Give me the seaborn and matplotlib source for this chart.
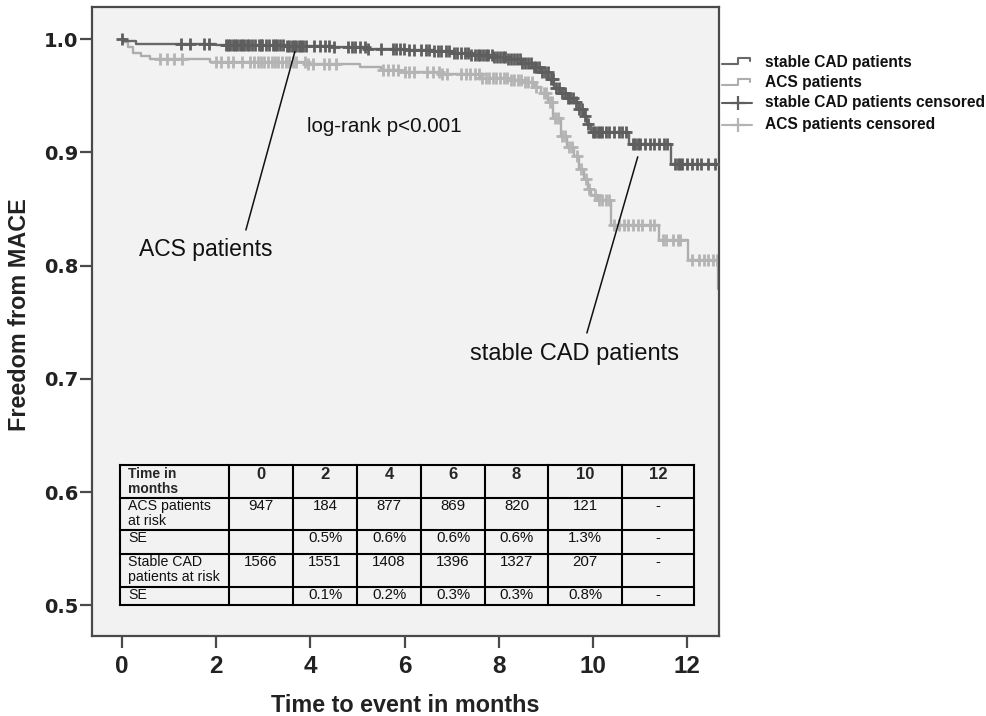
import numpy as np
import matplotlib
matplotlib.use("Agg")
import matplotlib.pyplot as plt
import seaborn as sns
from matplotlib.lines import Line2D

# ---------------- data ----------------
cad_times = [0, 0.05, 0.3, 2.0, 3.5, 4.5, 5.2, 6.0, 6.6, 7.0, 7.4, 7.9, 8.2, 8.5, 8.7,
             8.9, 9.05, 9.17, 9.3, 9.45, 9.6, 9.7, 9.8, 9.88, 9.95, 10.77, 11.66, 12.68]
cad_surv = [1.0, 0.998, 0.996, 0.995, 0.994, 0.993, 0.991, 0.990, 0.989, 0.988, 0.986,
            0.984, 0.982, 0.979, 0.975, 0.971, 0.965, 0.957, 0.952, 0.948, 0.944, 0.938,
            0.932, 0.925, 0.918, 0.907, 0.890, 0.890]

acs_times = [0, 0.05, 0.12, 0.24, 0.4, 0.6, 1.87, 3.9, 5.06, 5.5, 5.9, 6.8, 7.6, 8.2, 8.5,
             8.74, 8.9, 9.04, 9.15, 9.32, 9.45, 9.6, 9.7, 9.8, 9.9, 9.96, 10.1, 10.38,
             11.4, 12.02, 12.66, 12.68]
acs_surv = [1.0, 0.997, 0.993, 0.988, 0.985, 0.982, 0.980, 0.978, 0.975, 0.973, 0.971,
            0.969, 0.966, 0.964, 0.962, 0.958, 0.952, 0.944, 0.930, 0.914, 0.905, 0.897,
            0.885, 0.876, 0.868, 0.862, 0.858, 0.836, 0.823, 0.805, 0.779, 0.779]

cad_censor = [0.0, 1.25, 1.45, 1.75, 1.85, 2.2, 2.25, 2.3, 2.35, 2.4, 2.45, 2.5, 2.55, 2.58,
              2.65, 2.7, 2.75, 2.82, 2.9, 2.95, 2.98, 3.05, 3.12, 3.2, 3.25, 3.28, 3.35,
              3.42, 3.5, 3.55, 3.6, 3.65, 3.7, 3.75, 3.8, 3.85, 3.9, 4.08, 4.2, 4.3, 4.4,
              4.5, 4.8, 4.88, 4.95, 5.05, 5.15, 5.22, 5.5, 5.75, 5.82, 5.9, 5.98, 6.1, 6.2,
              6.35, 6.45, 6.52, 6.62, 6.7, 6.78, 6.88, 6.95, 7.05, 7.12, 7.2, 7.28, 7.35,
              7.42, 7.5, 7.55, 7.6, 7.66, 7.72, 7.78, 7.85, 7.9, 7.96, 8.02, 8.08, 8.14,
              8.2, 8.26, 8.32, 8.38, 8.44, 8.5, 8.56, 8.62, 8.68, 8.74, 8.8, 8.86, 8.92,
              8.98, 9.04, 9.1, 9.16, 9.22, 9.28, 9.34, 9.4, 9.46, 9.52, 9.58, 9.64, 9.7,
              9.76, 9.82, 9.9, 10.0, 10.05, 10.1, 10.15, 10.2, 10.28, 10.35, 10.45, 10.55,
              10.62, 10.7, 10.85, 10.9, 10.95, 11.0, 11.1, 11.2, 11.3, 11.4, 11.5, 11.58,
              11.75, 11.8, 11.85, 11.9, 12.0, 12.1, 12.2, 12.3, 12.45, 12.6]
acs_censor = [0.8, 0.95, 1.1, 1.27, 2.0, 2.1, 2.25, 2.35, 2.55, 2.72, 2.8, 2.88, 2.95, 3.02,
              3.1, 3.18, 3.25, 3.32, 3.4, 3.48, 3.55, 3.62, 3.7, 3.88, 3.95, 4.05, 4.28, 4.4,
              4.55, 5.55, 5.65, 5.75, 5.85, 6.0, 6.1, 6.2, 6.48, 6.6, 6.72, 6.8, 6.9, 7.2,
              7.3, 7.38, 7.5, 7.58, 7.65, 7.72, 7.8, 7.88, 7.95, 8.02, 8.1, 8.18, 8.25, 8.32,
              8.4, 8.48, 8.55, 8.62, 8.7, 8.78, 8.95, 9.0, 9.08, 9.12, 9.2, 9.25, 9.35, 9.4,
              9.5, 9.55, 9.65, 9.75, 9.85, 9.92, 10.05, 10.12, 10.2, 10.28, 10.35, 10.45,
              10.55, 10.65, 10.75, 10.85, 10.95, 11.05, 11.2, 11.3, 11.48, 11.55, 11.7, 11.8,
              11.85, 12.1, 12.25, 12.35, 12.45, 12.55, 12.64]

x_ticks = [0, 2, 4, 6, 8, 10, 12]
y_ticks = [0.5, 0.6, 0.7, 0.8, 0.9, 1.0]

legend_labels = ["stable CAD patients", "ACS patients",
                 "stable CAD patients censored", "ACS patients censored"]

table_header = ["Time in\nmonths", "0", "2", "4", "6", "8", "10", "12"]
row_labels = ["ACS patients\nat risk", "SE", "Stable CAD\npatients at risk", "SE"]
acs_at_risk = ["947", "184", "877", "869", "820", "121", "-"]
acs_se = ["", "0.5%", "0.6%", "0.6%", "0.6%", "1.3%", "-"]
cad_at_risk = ["1566", "1551", "1408", "1396", "1327", "207", "-"]
cad_se = ["", "0.1%", "0.2%", "0.3%", "0.3%", "0.8%", "-"]

# ---------------- styling ----------------
CAD_COL = "#686868"
CAD_MK = "#5e5e5e"
ACS_COL = "#adadad"
ACS_MK = "#b4b4b4"
FRAME = "#4a4a4a"

sns.set_theme(style="white")
plt.rcParams["font.family"] = ["Liberation Sans", "DejaVu Sans"]

W, H = 986, 716
fig = plt.figure(figsize=(W / 100, H / 100), dpi=100)
fig.patch.set_facecolor("white")

AX_L, AX_R, AX_T, AX_B = 92.3, 719.0, 7.3, 636.0
ax = fig.add_axes([AX_L / W, 1 - AX_B / H, (AX_R - AX_L) / W, (AX_B - AX_T) / H])
ax.set_facecolor("#f2f2f2")


def step_value(times, surv, t):
    idx = np.searchsorted(times, t, side="right") - 1
    return np.asarray(surv)[idx]


# curves
sns.lineplot(x=acs_times, y=acs_surv, drawstyle="steps-post", color=ACS_COL, lw=1.7,
             estimator=None, sort=False, ax=ax, zorder=2)
sns.lineplot(x=cad_times, y=cad_surv, drawstyle="steps-post", color=CAD_COL, lw=1.7,
             estimator=None, sort=False, ax=ax, zorder=3)

acs_cy = step_value(acs_times, acs_surv, np.array(acs_censor))
cad_cy = step_value(cad_times, cad_surv, np.array(cad_censor))
sns.scatterplot(x=acs_censor, y=acs_cy, marker="+", s=75, linewidth=2.0, color=ACS_MK,
                ax=ax, zorder=2.5)
sns.scatterplot(x=cad_censor, y=cad_cy, marker="+", s=75, linewidth=2.0, color=CAD_MK,
                ax=ax, zorder=3.5)

ax.set_xlim(-0.631, 12.675)
ax.set_ylim(0.473, 1.028)
ax.set_xticks(x_ticks)
ax.set_yticks(y_ticks)
ax.set_xticklabels([str(v) for v in x_ticks])
ax.set_yticklabels([f"{v:.1f}" for v in y_ticks])

for sp in ax.spines.values():
    sp.set_color(FRAME)
    sp.set_linewidth(1.6)
    sp.set_visible(True)

ax.tick_params(axis="both", direction="out", length=8.6, width=1.6, color=FRAME,
               bottom=True, left=True)
ax.tick_params(axis="y", pad=1.5)
ax.tick_params(axis="x", pad=5)
for lab in ax.get_yticklabels():
    lab.set_fontfamily("DejaVu Sans")
    lab.set_fontweight("bold")
    lab.set_fontsize(14)
    lab.set_color("#222222")
for lab in ax.get_xticklabels():
    lab.set_fontfamily("Liberation Sans")
    lab.set_fontweight("bold")
    lab.set_fontsize(17.5)
    lab.set_color("#222222")

ax.set_xlabel("Time to event in months", fontsize=16.8, fontweight="bold", color="#222222")
ax.set_ylabel("Freedom from MACE", fontsize=16.8, fontweight="bold", color="#222222")
ax.xaxis.set_label_coords((405 - AX_L) / (AX_R - AX_L), (AX_B - 705) / (AX_B - AX_T))
ax.xaxis.label.set_va("center")
ax.yaxis.set_label_coords((20 - AX_L) / (AX_R - AX_L), (AX_B - 315) / (AX_B - AX_T))
ax.yaxis.label.set_va("center")

# annotations
ax.text(3.93, 0.9226, "log-rank p<0.001", fontsize=14.8, ha="left", va="center",
        color="#111111")
ax.text(1.77, 0.8138, "ACS patients", fontsize=16.5, ha="center", va="center",
        color="#111111")
ax.text(9.6, 0.722, "stable CAD patients", fontsize=17, ha="center", va="center",
        color="#111111")
ax.plot([2.63, 3.67], [0.8314, 0.9888], color="#111111", lw=1.1, zorder=4)
ax.plot([9.87, 10.95], [0.7405, 0.896], color="#111111", lw=1.1, zorder=4)

# ---------------- table ----------------
col_edges_px = [120, 229, 293, 357, 421, 485, 548, 622, 694]
row_edges_px = [465, 498, 530, 554, 587, 605]


def axx(px):
    return (px - AX_L) / (AX_R - AX_L)


def axy(py):
    return (AX_B - py) / (AX_B - AX_T)


tkw = dict(transform=ax.transAxes, color="black", lw=1.5, clip_on=False, zorder=5,
           solid_capstyle="projecting")
for xp in col_edges_px:
    ax.plot([axx(xp), axx(xp)], [axy(row_edges_px[0]), axy(row_edges_px[-1])], **tkw)
for yp in row_edges_px:
    ax.plot([axx(col_edges_px[0]), axx(col_edges_px[-1])], [axy(yp), axy(yp)], **tkw)

rows = [acs_at_risk, acs_se, cad_at_risk, cad_se]
# header
ax.text(axx(col_edges_px[0] + 8), axy(row_edges_px[0] + 2), table_header[0],
        transform=ax.transAxes, ha="left", va="top", fontsize=10, fontweight="bold",
        linespacing=1.05, zorder=6)
for j, lab in enumerate(table_header[1:]):
    xc = (col_edges_px[j + 1] + col_edges_px[j + 2]) / 2
    ax.text(axx(xc), axy(row_edges_px[0] + 2), lab, transform=ax.transAxes, ha="center",
            va="top", fontsize=12, fontweight="bold", zorder=6)
for i, (rl, vals) in enumerate(zip(row_labels, rows)):
    ytop = row_edges_px[i + 1]
    ax.text(axx(col_edges_px[0] + 8), axy(ytop + 1), rl, transform=ax.transAxes,
            ha="left", va="top", fontsize=10.2, linespacing=1.05, color="#111111", zorder=6)
    for j, v in enumerate(vals):
        xc = (col_edges_px[j + 1] + col_edges_px[j + 2]) / 2
        ax.text(axx(xc), axy(ytop + 1), v, transform=ax.transAxes, ha="center",
                va="top", fontsize=10.8, color="#111111", zorder=6)

# ---------------- legend (outside, right) ----------------
def fx(px):
    return px / W


def fy(py):
    return 1 - py / H


leg_rows_px = [62, 83, 103, 125]
leg_colors = [CAD_COL, ACS_COL, CAD_MK, ACS_MK]
for k, (lab, yc, col) in enumerate(zip(legend_labels, leg_rows_px, leg_colors)):
    if k < 2:
        xs = [721.5, 738, 738, 749.5, 749.5]
        ys = [yc + 1.5, yc + 1.5, yc - 4.5, yc - 4.5, yc - 1]
        fig.add_artist(Line2D([fx(x) for x in xs], [fy(y) for y in ys], color=col,
                              lw=1.5, transform=fig.transFigure))
    else:
        fig.add_artist(Line2D([fx(721.5), fx(752)], [fy(yc), fy(yc)], color=col, lw=1.5,
                              transform=fig.transFigure))
        fig.add_artist(Line2D([fx(738)], [fy(yc)], color=col, marker="+", ms=10, mew=1.6,
                              transform=fig.transFigure))
    fig.text(fx(765), fy(yc), lab, ha="left", va="center", fontsize=11.2,
             fontweight="bold", color="#111111")

fig.savefig("out.png", dpi=100, facecolor="white")
